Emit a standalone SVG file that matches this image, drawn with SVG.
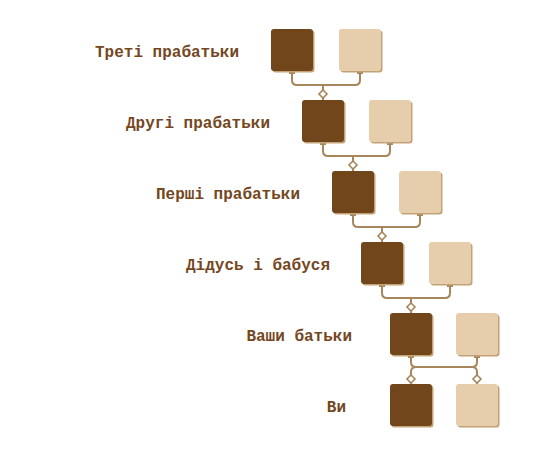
<svg xmlns="http://www.w3.org/2000/svg" width="546" height="457" viewBox="0 0 546 457">
<defs>
<style>
.lbl{font-family:"Liberation Mono","DejaVu Sans Mono",monospace;font-weight:bold;font-size:16px;fill:#74471e;text-anchor:end}
.sh{fill:#c4a277}
.dk{fill:#71461b}
.lt{fill:#e6cead}
.con{fill:none;stroke:#a8865b;stroke-width:2;stroke-linecap:round}
.tb{fill:#a8865b}
.dm{fill:#fff;stroke:#a8865b;stroke-width:1.6}
</style>
<g id="pair">
<rect class="sh" x="1.5" y="1.5" width="42" height="42" rx="3"/>
<rect class="dk" x="0" y="0" width="42" height="42" rx="3"/>
</g>
</defs>
<rect width="546" height="457" fill="#fff"/>
<g id="connectors">
<path class="con" d="M292,72 V80 Q292,85 297,85 H355 Q360,85 360,80 V72 M323,85 V100"/>
<path class="con" d="M323,143 V151 Q323,156 328,156 H385 Q390,156 390,151 V143 M353,156 V171"/>
<path class="con" d="M353,214 V222 Q353,227 358,227 H415 Q420,227 420,222 V214 M382,227 V242"/>
<path class="con" d="M382,285 V293 Q382,298 387,298 H445 Q450,298 450,293 V285 M411,298 V313"/>
<path class="con" d="M411,356 V362 Q411,367 416,367 H472 Q477,367 477,362 V356 M411,384 V372 Q411,367 416,367 M477,384 V372 Q477,367 472,367"/>
<g class="tb">
<rect x="289" y="71" width="6" height="3"/><rect x="357" y="71" width="6" height="3"/>
<rect x="320" y="142" width="6" height="3"/><rect x="387" y="142" width="6" height="3"/>
<rect x="350" y="213" width="6" height="3"/><rect x="417" y="213" width="6" height="3"/>
<rect x="379" y="284" width="6" height="3"/><rect x="447" y="284" width="6" height="3"/>
<rect x="408" y="355" width="6" height="3"/><rect x="474" y="355" width="6" height="3"/>
</g>
<path class="dm" d="M323,90 L327,94 L323,98 L319,94 Z"/>
<path class="dm" d="M353,161 L357,165 L353,169 L349,165 Z"/>
<path class="dm" d="M382,232 L386,236 L382,240 L378,236 Z"/>
<path class="dm" d="M411,303 L415,307 L411,311 L407,307 Z"/>
<path class="dm" d="M411,375 L415,379 L411,383 L407,379 Z"/>
<path class="dm" d="M477,375 L481,379 L477,383 L473,379 Z"/>
</g>
<g id="row1">
<text class="lbl" x="239" y="56.5">Треті прабатьки</text>
<rect class="sh" x="272.5" y="30.5" width="42" height="42" rx="3"/><rect class="dk" x="271" y="29" width="42" height="42" rx="3"/>
<rect class="sh" x="340.5" y="30.5" width="42" height="42" rx="3"/><rect class="lt" x="339" y="29" width="42" height="42" rx="3"/>
</g>
<g id="row2">
<text class="lbl" x="270" y="127.5">Другі прабатьки</text>
<rect class="sh" x="303.5" y="101.5" width="42" height="42" rx="3"/><rect class="dk" x="302" y="100" width="42" height="42" rx="3"/>
<rect class="sh" x="370.5" y="101.5" width="42" height="42" rx="3"/><rect class="lt" x="369" y="100" width="42" height="42" rx="3"/>
</g>
<g id="row3">
<text class="lbl" x="300" y="198.5">Перші прабатьки</text>
<rect class="sh" x="333.5" y="172.5" width="42" height="42" rx="3"/><rect class="dk" x="332" y="171" width="42" height="42" rx="3"/>
<rect class="sh" x="400.5" y="172.5" width="42" height="42" rx="3"/><rect class="lt" x="399" y="171" width="42" height="42" rx="3"/>
</g>
<g id="row4">
<text class="lbl" x="330" y="269.5">Дідусь і бабуся</text>
<rect class="sh" x="362.5" y="243.5" width="42" height="42" rx="3"/><rect class="dk" x="361" y="242" width="42" height="42" rx="3"/>
<rect class="sh" x="430.5" y="243.5" width="42" height="42" rx="3"/><rect class="lt" x="429" y="242" width="42" height="42" rx="3"/>
</g>
<g id="row5">
<text class="lbl" x="352" y="340.5">Ваши батьки</text>
<rect class="sh" x="391.5" y="314.5" width="42" height="42" rx="3"/><rect class="dk" x="390" y="313" width="42" height="42" rx="3"/>
<rect class="sh" x="457.5" y="314.5" width="42" height="42" rx="3"/><rect class="lt" x="456" y="313" width="42" height="42" rx="3"/>
</g>
<g id="row6">
<text class="lbl" x="346" y="411.5">Ви</text>
<rect class="sh" x="391.5" y="385.5" width="42" height="42" rx="3"/><rect class="dk" x="390" y="384" width="42" height="42" rx="3"/>
<rect class="sh" x="457.5" y="385.5" width="42" height="42" rx="3"/><rect class="lt" x="456" y="384" width="42" height="42" rx="3"/>
</g>
</svg>
